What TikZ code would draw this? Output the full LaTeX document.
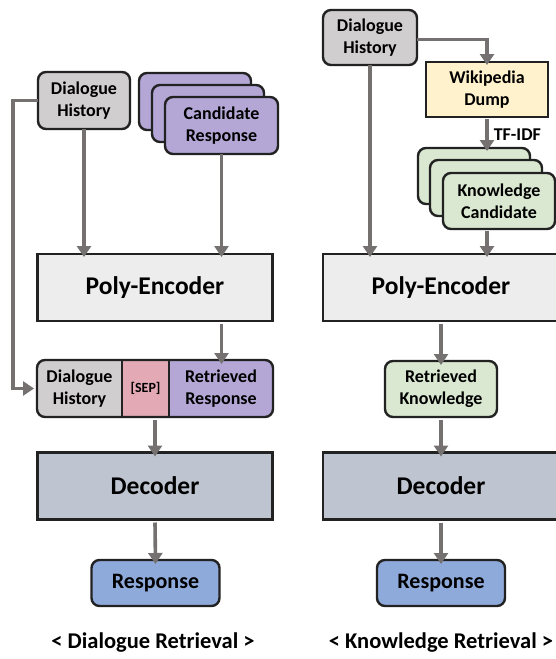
\documentclass[tikz,border=0pt]{standalone}
\usepackage{fontspec}
\setmainfont{Carlito}
\usetikzlibrary{arrows.meta}
\definecolor{edge}{HTML}{222222}
\definecolor{arrc}{HTML}{767171}
\definecolor{grayc}{HTML}{D0CECE}
\definecolor{purc}{HTML}{B4A7D6}
\definecolor{pinkc}{HTML}{E3AAB5}
\definecolor{polyc}{HTML}{EDEDED}
\definecolor{decc}{HTML}{BFC5D0}
\definecolor{respc}{HTML}{8EAADB}
\definecolor{wikic}{HTML}{FFF2CC}
\definecolor{greenc}{HTML}{DAE8D1}
\tikzset{
  box/.style={draw=edge, line width=2.4pt, rounded corners=8pt, align=center,
    inner sep=0pt, outer sep=0pt, font=\fontsize{18}{22}\selectfont\bfseries},
  bigbox/.style={draw=edge, line width=2.6pt, inner sep=0pt, outer sep=0pt,
    font=\fontsize{25.5}{30}\selectfont\bfseries},
  txt/.style={inner sep=0pt, outer sep=0pt, align=center, font=\fontsize{18}{22}\selectfont\bfseries},
  arr/.style={draw=arrc, line width=3.6pt, -{Triangle[width=14pt,length=11pt]}},
  caption/.style={inner sep=0pt, font=\fontsize{22.5}{26}\selectfont\bfseries}
}
\begin{document}
\begin{tikzpicture}[x=1pt,y=-1pt]
\clip (0,0) rectangle (556,659);
\fill[white] (0,0) rectangle (556,659);

% ---------- Left: Dialogue Retrieval ----------
\node[box, fill=grayc, minimum width=92, minimum height=57] (dhL) at (84,100.5) {Dialogue\\History};
\node[box, fill=purc, minimum width=112, minimum height=57] (candB) at (195,101.5) {};
\node[box, fill=purc, minimum width=112, minimum height=57] (candM) at (208,113.5) {};
\node[box, fill=purc, minimum width=113, minimum height=57] (candF) at (221.5,125.5) {Candidate\\Response};

\node[bigbox, fill=polyc, minimum width=235, minimum height=67] (polyL) at (155,287.5) {Poly-Encoder};

% concatenated box
\begin{scope}
  \clip[rounded corners=8pt] (37,360) rectangle (273,417);
  \fill[grayc] (37,360) rectangle (122,417);
  \fill[pinkc] (122,360) rectangle (169,417);
  \fill[purc] (169,360) rectangle (273,417);
\end{scope}
\node[box, minimum width=236, minimum height=57] (cat) at (155,388.5) {};
\draw[draw=edge, line width=2.4pt] (122,360) -- (122,417);
\draw[draw=edge, line width=2.4pt] (169,360) -- (169,417);
\node[txt] (catDH) at (79.5,388.5) {Dialogue\\History};
\node[txt, font=\fontsize{14}{16}\selectfont\bfseries] (catSEP) at (145.5,388.5) {[SEP]};
\node[txt] (catRR) at (221,388.5) {Retrieved\\Response};

\node[bigbox, fill=decc, minimum width=235, minimum height=67] (decL) at (155,486) {Decoder};
\node[box, fill=respc, minimum width=128, minimum height=46, font=\fontsize{22}{26}\selectfont\bfseries] (respL) at (155.5,583) {Response};

\node[caption] (capL) at (153,643) {< Dialogue Retrieval >};

\coordinate (bendL) at (13,0);
\draw[arr] (dhL.south) -- ([yshift=-3pt]polyL.north -| dhL.south);
\draw[arr] (candF.south) -- ([yshift=-3pt]polyL.north -| candF.south);
\draw[arr] ([yshift=-3pt]polyL.south -| candF.south) -- ([yshift=-4pt]cat.north -| candF.south);
\draw[arr] (dhL.west) -- (dhL.west -| bendL) |- ([xshift=-3pt]cat.west);
\draw[arr] ([yshift=-3pt]cat.south -| decL.north) -- ([yshift=-4pt]decL.north);
\draw[arr] ([yshift=-3pt]decL.south) -- ([yshift=-4pt]respL.north);

% ---------- Right: Knowledge Retrieval ----------
\node[box, fill=grayc, minimum width=94, minimum height=55] (dhR) at (370,37.5) {Dialogue\\History};
\node[box, rounded corners=0pt, fill=wikic, minimum width=122, minimum height=55] (wiki) at (487,89.5) {Wikipedia\\Dump};
\node[box, fill=greenc, minimum width=112, minimum height=56] (knB) at (474,176) {};
\node[box, fill=greenc, minimum width=112, minimum height=56] (knM) at (486,188) {};
\node[box, fill=greenc, minimum width=112, minimum height=56] (knF) at (499,201) {Knowledge\\Candidate};

\node[bigbox, fill=polyc, minimum width=236, minimum height=67] (polyR) at (441,287.5) {Poly-Encoder};
\node[box, fill=greenc, minimum width=112, minimum height=56] (rk) at (441,389) {Retrieved\\Knowledge};
\node[bigbox, fill=decc, minimum width=236, minimum height=67] (decR) at (441,486) {Decoder};
\node[box, fill=respc, minimum width=128, minimum height=46, font=\fontsize{22}{26}\selectfont\bfseries] (respR) at (441,583) {Response};

\node[caption] (capR) at (441,643) {< Knowledge Retrieval >};

\draw[arr] ([yshift=-2pt]dhR.east) -| ([yshift=-3pt]wiki.north);
\draw[arr] ([yshift=-2pt]wiki.south) -- ([yshift=-3pt]knB.north -| wiki.south)
  node[midway, right=5pt, inner sep=0pt, font=\fontsize{18}{21}\selectfont\bfseries] (tfidf) {TF-IDF};
\draw[arr] ([yshift=-2pt]knF.south -| wiki.south) -- ([yshift=-3pt]polyR.north -| wiki.south);
\draw[arr] (dhR.south) -- ([yshift=-3pt]polyR.north -| dhR.south);
\draw[arr] ([yshift=-3pt]polyR.south) -- ([yshift=-4pt]rk.north);
\draw[arr] ([yshift=-3pt]rk.south) -- ([yshift=-4pt]decR.north);
\draw[arr] ([yshift=-3pt]decR.south) -- ([yshift=-4pt]respR.north);
\end{tikzpicture}
\end{document}
